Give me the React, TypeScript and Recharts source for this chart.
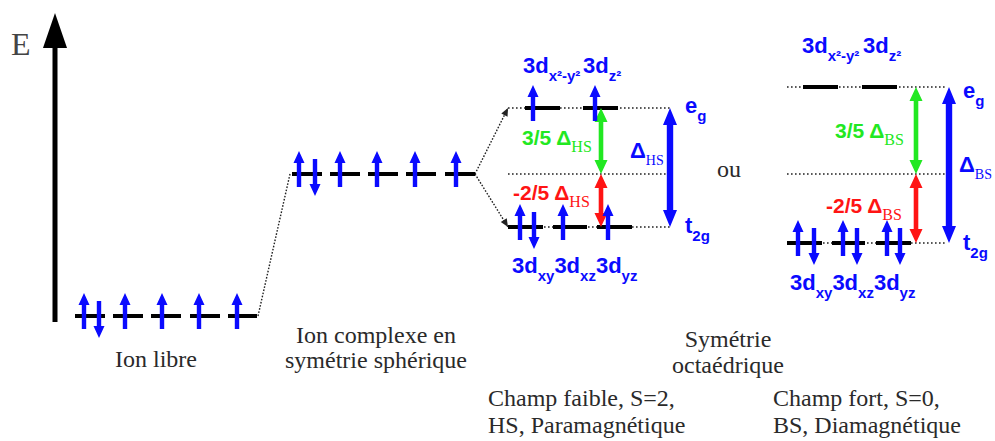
import React from 'react';
import { ScatterChart, Scatter, XAxis, YAxis, ReferenceLine } from 'recharts';

// energies in arbitrary units (0 = free ion), x in diagram units
const E_FREE = 0;
const E_SPHERE = 142;
const E_EG_HS = 208;
const E_T2G_HS = 89;
const E_EG_BS = 229;
const E_T2G_BS = 73;

// orbital dashes [start, end] for each level
const freeOrbitals = [[75, 105], [113, 143], [151, 181], [190, 220], [228, 257]];
const sphereOrbitals = [[292, 322], [330, 360], [368, 398], [406, 436], [445, 475]];
const egHSOrbitals = [[525, 560], [583, 618]];
const t2gHSOrbitals = [[508, 543], [553, 587], [597, 632]];
const egBSOrbitals = [[803, 838], [862, 897]];
const t2gBSOrbitals = [[787, 822], [832, 865], [876, 911]];

// electrons: x position and spin (+1 up, -1 down)
const freeElectrons = [[84, 1], [99, -1], [125, 1], [162, 1], [199, 1], [237, 1]];
const sphereElectrons = [[299, 1], [315, -1], [340, 1], [377, 1], [415, 1], [456, 1]];
const egHSElectrons = [[533, 1], [595, 1]];
const t2gHSElectrons = [[520, 1], [534, -1], [563, 1], [608, 1]];
const t2gBSElectrons = [[798, 1], [814, -1], [843, 1], [857, -1], [887, 1], [900, -1]];

// dotted guides [from, to]
const guideHS = [508, 670];
const guideBS = [787, 947];

// dotted connectors [x1, E1, x2, E2, withHead]
const connectors = [
  [258, E_FREE, 290, E_SPHERE, 0],
  [475, E_SPHERE, 508, E_EG_HS, 1],
  [475, E_SPHERE, 508, E_T2G_HS, 1],
];

// splitting arrows [x, Etop, Ebottom, kind]
const splittings = [
  [601, E_EG_HS, E_SPHERE, 'green'],
  [601, E_SPHERE, E_T2G_HS, 'red'],
  [670, E_EG_HS, E_T2G_HS, 'blue'],
  [916, E_EG_BS, E_SPHERE, 'green'],
  [916, E_SPHERE, E_T2G_BS, 'red'],
  [949, E_EG_BS, E_T2G_BS, 'blue'],
];

const energyAxis = [55, -6, 303];

// text labels: x, E (baseline), parts alternating normal / subscript
const serifMiddle = [
  { x: 156, E: -51, parts: ['Ion libre'] },
  { x: 376, E: -27, parts: ['Ion complexe en'] },
  { x: 376, E: -52, parts: ['symétrie sphérique'] },
  { x: 729, E: 139, parts: ['ou'] },
  { x: 728, E: -31, parts: ['Symétrie'] },
  { x: 728, E: -57, parts: ['octaédrique'] },
];
const serifStart = [
  { x: 488, E: -90, parts: ['Champ faible, S=2,'] },
  { x: 488, E: -117, parts: ['HS, Paramagnétique'] },
  { x: 773, E: -90, parts: ['Champ fort, S=0,'] },
  { x: 773, E: -117, parts: ['BS, Diamagnétique'] },
];
const axisLabel = [{ x: 11, E: 261, parts: ['E'] }];
const orbitalLabels = [
  { x: 523, E: 243, parts: ['3d', 'x²-y²'] },
  { x: 583, E: 243, parts: ['3d', 'z²'] },
  { x: 802, E: 263, parts: ['3d', 'x²-y²'] },
  { x: 863, E: 263, parts: ['3d', 'z²'] },
  { x: 512, E: 43, parts: ['3d', 'xy', '3d', 'xz', '3d', 'yz'] },
  { x: 790, E: 26, parts: ['3d', 'xy', '3d', 'xz', '3d', 'yz'] },
  { x: 685, E: 203, parts: ['e', 'g'] },
  { x: 685, E: 83, parts: ['t', '2g'] },
  { x: 963, E: 218, parts: ['e', 'g'] },
  { x: 963, E: 66, parts: ['t', '2g'] },
];
const greenLabels = [
  { x: 522, E: 171, parts: ['3/5 Δ', 'HS'] },
  { x: 835, E: 178, parts: ['3/5 Δ', 'BS'] },
];
const redLabels = [
  { x: 513, E: 116, parts: ['-2/5 Δ', 'HS'] },
  { x: 826, E: 103, parts: ['-2/5 Δ', 'BS'] },
];
const blueDeltaLabels = [
  { x: 630, E: 158, parts: ['Δ', 'HS'] },
  { x: 959, E: 144, parts: ['Δ', 'BS'] },
];

const SERIF = "'Liberation Serif', 'Times New Roman', serif";
const SANS = "'Liberation Sans', Arial, sans-serif";
const BLUE = '#0a0aff';
const GREEN = '#22e822';
const RED = '#ff1414';

const colors: Record<string, string> = { green: GREEN, red: RED, blue: BLUE };

const levels = [
  { E: E_FREE, spans: freeOrbitals },
  { E: E_SPHERE, spans: sphereOrbitals },
  { E: E_EG_HS, spans: egHSOrbitals },
  { E: E_T2G_HS, spans: t2gHSOrbitals },
  { E: E_EG_BS, spans: egBSOrbitals },
  { E: E_T2G_BS, spans: t2gBSOrbitals },
];

const electrons = [
  ...freeElectrons.map(([x, s]) => ({ x, E: E_FREE, spin: s })),
  ...sphereElectrons.map(([x, s]) => ({ x, E: E_SPHERE, spin: s })),
  ...egHSElectrons.map(([x, s]) => ({ x, E: E_EG_HS, spin: s })),
  ...t2gHSElectrons.map(([x, s]) => ({ x, E: E_T2G_HS, spin: s })),
  ...t2gBSElectrons.map(([x, s]) => ({ x, E: E_T2G_BS, spin: s })),
];

const guides = [
  ...[E_EG_HS, E_SPHERE, E_T2G_HS].map((E) => ({ E, from: guideHS[0], to: guideHS[1] })),
  ...[E_EG_BS, E_SPHERE, E_T2G_BS].map((E) => ({ E, from: guideBS[0], to: guideBS[1] })),
];

const Electron = (props: any) => {
  const { cx, cy, payload } = props;
  const up = payload.spin > 0;
  const hw = 5.5, hl = 12, sw = 2.2;
  let pts;
  if (up) {
    const tip = cy - 23, end = cy + 13;
    pts = [[cx, tip], [cx + hw, tip + hl], [cx + sw, tip + hl], [cx + sw, end], [cx - sw, end], [cx - sw, tip + hl], [cx - hw, tip + hl]];
  } else {
    const tip = cy + 22, end = cy - 15;
    pts = [[cx, tip], [cx + hw, tip - hl], [cx + sw, tip - hl], [cx + sw, end], [cx - sw, end], [cx - sw, tip - hl], [cx - hw, tip - hl]];
  }
  return <polygon points={pts.map((p) => p.join(',')).join(' ')} fill={BLUE} />;
};

const DoubleArrow = (props: any) => {
  const { x1, y1, y2, kind } = props;
  const top = Math.min(y1, y2), bottom = Math.max(y1, y2);
  const blue = kind === 'blue';
  const sw = blue ? 3.2 : 2.3, hw = blue ? 7 : 6.5, hl = blue ? 17 : 14;
  const c = colors[kind];
  const pts = [
    [x1, top], [x1 + hw, top + hl], [x1 + sw, top + hl], [x1 + sw, bottom - hl], [x1 + hw, bottom - hl],
    [x1, bottom], [x1 - hw, bottom - hl], [x1 - sw, bottom - hl], [x1 - sw, top + hl], [x1 - hw, top + hl],
  ];
  return <polygon points={pts.map((p) => p.join(',')).join(' ')} fill={c} />;
};

const AxisArrow = (props: any) => {
  const { x1, y1, y2 } = props;
  const top = Math.min(y1, y2), bottom = Math.max(y1, y2);
  const hw = 12, hl = 35;
  return (
    <g>
      <rect x={x1 - 2.5} y={top + hl - 1} width={5} height={bottom - top - hl + 1} fill="#000" />
      <polygon points={`${x1},${top} ${x1 + hw},${top + hl} ${x1 - hw},${top + hl}`} fill="#000" />
    </g>
  );
};

const Connector = (props: any) => {
  const { x1, y1, x2, y2, head } = props;
  const ang = Math.atan2(y2 - y1, x2 - x1);
  const L = 8, W = 3.5;
  const bx = x2 - L * Math.cos(ang), by = y2 - L * Math.sin(ang);
  const px = -Math.sin(ang) * W, py = Math.cos(ang) * W;
  return (
    <g>
      <line x1={x1} y1={y1} x2={x2} y2={y2} stroke="#222" strokeWidth={1.4} strokeDasharray="1.6 1.6" />
      {head ? <polygon points={`${x2},${y2} ${bx + px},${by + py} ${bx - px},${by - py}`} fill="#222" /> : null}
    </g>
  );
};

type TextStyle = {
  size: number; subSize: number; subDy: number; family: string; subFamily: string;
  weight: string; subWeight: string; fill: string; anchor: string;
};

const makeLabel = (st: TextStyle) => (props: any) => {
  const { cx, cy, payload } = props;
  const parts: string[] = payload.parts;
  return (
    <text x={cx} y={cy} fill={st.fill} textAnchor={st.anchor as any} fontFamily={st.family} fontWeight={st.weight} fontSize={st.size}>
      {parts.map((p, i) => {
        const sub = i % 2 === 1;
        const dy = sub ? st.subDy : i > 0 ? -st.subDy : 0;
        return (
          <tspan key={i} dy={dy} fontSize={sub ? st.subSize : st.size} fontFamily={sub ? st.subFamily : st.family} fontWeight={sub ? st.subWeight : st.weight}>
            {p}
          </tspan>
        );
      })}
    </text>
  );
};

const serifBase: TextStyle = { size: 24, subSize: 24, subDy: 0, family: SERIF, subFamily: SERIF, weight: 'normal', subWeight: 'normal', fill: '#2a2a2a', anchor: 'middle' };
const orbBase: TextStyle = { size: 22, subSize: 15, subDy: 8, family: SANS, subFamily: SANS, weight: 'bold', subWeight: 'bold', fill: BLUE, anchor: 'start' };
const deltaBase: TextStyle = { size: 21, subSize: 16, subDy: 7, family: SANS, subFamily: SERIF, weight: 'bold', subWeight: 'normal', fill: GREEN, anchor: 'start' };

const SerifMid = makeLabel(serifBase);
const SerifStart = makeLabel({ ...serifBase, anchor: 'start' });
const AxisE = makeLabel({ ...serifBase, size: 32, anchor: 'start', fill: '#444' });
const OrbLabel = makeLabel(orbBase);
const GreenLabel = makeLabel(deltaBase);
const RedLabel = makeLabel({ ...deltaBase, fill: RED });
const BlueLabel = makeLabel({ ...deltaBase, size: 22, subSize: 14, fill: BLUE });

const CrystalField = () => {
  return (
    <div style={{ position: 'absolute', left: 0, top: 0, width: 995, height: 441, background: '#fff' }}>
      <ScatterChart width={995} height={441} margin={{ top: 0, right: 0, bottom: 0, left: 0 }}>
        <XAxis type="number" dataKey="x" domain={[0, 995]} allowDataOverflow hide />
        <YAxis type="number" dataKey="E" domain={[-125, 316]} allowDataOverflow hide />

        {guides.map((g, i) => (
          <ReferenceLine key={'g' + i} segment={[{ x: g.from, y: g.E }, { x: g.to, y: g.E }]} stroke="#222" strokeWidth={1.4} strokeDasharray="1.6 2.4" ifOverflow="visible" />
        ))}
        {connectors.map((c, i) => (
          <ReferenceLine key={'c' + i} segment={[{ x: c[0], y: c[1] }, { x: c[2], y: c[3] }]} ifOverflow="visible" shape={(p: any) => <Connector {...p} head={c[4]} />} />
        ))}
        {levels.flatMap((lv, i) =>
          lv.spans.map((s, j) => (
            <ReferenceLine key={'l' + i + '-' + j} segment={[{ x: s[0], y: lv.E }, { x: s[1], y: lv.E }]} stroke="#000" strokeWidth={4} ifOverflow="visible" />
          ))
        )}
        {splittings.map((s, i) => (
          <ReferenceLine key={'s' + i} segment={[{ x: s[0] as number, y: s[1] as number }, { x: s[0] as number, y: s[2] as number }]} ifOverflow="visible" shape={(p: any) => <DoubleArrow {...p} kind={s[3]} />} />
        ))}
        <ReferenceLine segment={[{ x: energyAxis[0], y: energyAxis[1] }, { x: energyAxis[0], y: energyAxis[2] }]} ifOverflow="visible" shape={(p: any) => <AxisArrow {...p} />} />

        <Scatter data={electrons} shape={Electron} isAnimationActive={false} />
        <Scatter data={serifMiddle} shape={SerifMid} isAnimationActive={false} />
        <Scatter data={serifStart} shape={SerifStart} isAnimationActive={false} />
        <Scatter data={axisLabel} shape={AxisE} isAnimationActive={false} />
        <Scatter data={orbitalLabels} shape={OrbLabel} isAnimationActive={false} />
        <Scatter data={greenLabels} shape={GreenLabel} isAnimationActive={false} />
        <Scatter data={redLabels} shape={RedLabel} isAnimationActive={false} />
        <Scatter data={blueDeltaLabels} shape={BlueLabel} isAnimationActive={false} />
      </ScatterChart>
    </div>
  );
};

export default function App() {
  return <CrystalField />;
}
